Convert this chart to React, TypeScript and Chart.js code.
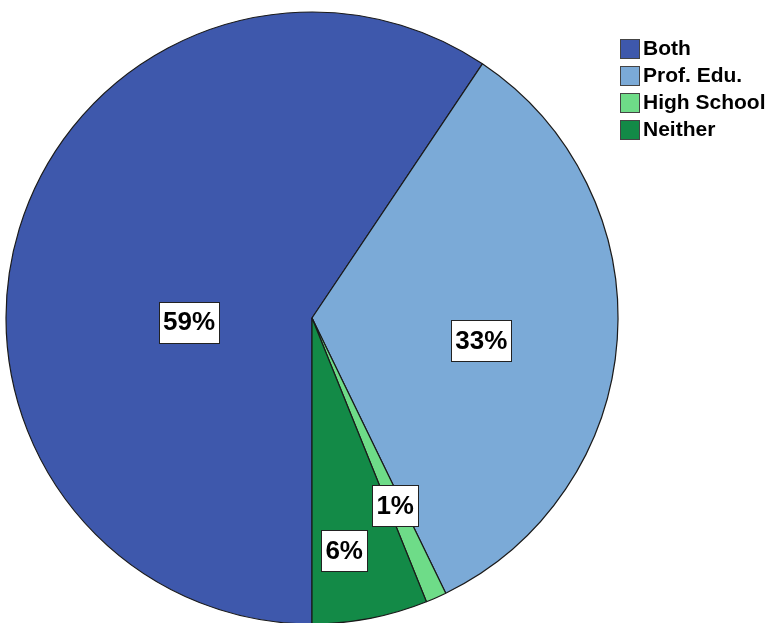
import React, { useEffect, useRef } from "react";
import { Chart, registerables } from "chart.js";

Chart.register(...registerables);

const categories = ["Both", "Prof. Edu.", "High School", "Neither"];
const shares = [59.4, 33.4, 1.1, 6.1];
const sliceColors = ["#3E58AC", "#7BAAD7", "#6EDC88", "#138A47"];

// label placement relative to each slice (radius fraction, angle shift in degrees)
const labelRadiusFraction = [0.402, 0.558, 0.67, 0.767];
const labelAngleShift = [-18.8, 3.7, 0, 3.1];

const FONT = "'Liberation Sans', Arial, sans-serif";

const pieLabelsPlugin = {
  id: "pieLabels",
  afterDatasetsDraw(chart: any) {
    const ctx = chart.ctx;
    const meta = chart.getDatasetMeta(0);
    const data = chart.data.datasets[0].data as number[];
    ctx.save();
    ctx.font = `bold 26px ${FONT}`;
    ctx.textAlign = "center";
    ctx.textBaseline = "middle";
    meta.data.forEach((arc: any, i: number) => {
      const p = arc.getProps(["x", "y", "startAngle", "endAngle", "outerRadius"], true);
      const mid = (p.startAngle + p.endAngle) / 2 + (labelAngleShift[i] * Math.PI) / 180;
      const r = p.outerRadius * labelRadiusFraction[i];
      const cx = p.x + Math.cos(mid) * r;
      const cy = p.y + Math.sin(mid) * r;
      const text = Math.round(data[i]) + "%";
      const w = ctx.measureText(text).width + 8;
      const h = 41;
      ctx.fillStyle = "#ffffff";
      ctx.fillRect(Math.round(cx - w / 2) + 0.5, Math.round(cy - h / 2) + 0.5, Math.round(w), h);
      ctx.strokeStyle = "#222222";
      ctx.lineWidth = 1;
      ctx.strokeRect(Math.round(cx - w / 2) + 0.5, Math.round(cy - h / 2) + 0.5, Math.round(w), h);
      ctx.fillStyle = "#000000";
      ctx.fillText(text, cx, cy + 1);
    });
    ctx.restore();
  },
};

const legendPlugin = {
  id: "boxLegend",
  afterDraw(chart: any) {
    const ctx = chart.ctx;
    const labels = chart.data.labels as string[];
    const colors = chart.data.datasets[0].backgroundColor as string[];
    const left = chart.chartArea.right + 2;
    const top = 39;
    const step = 27;
    const box = 19;
    ctx.save();
    ctx.font = `bold 21px ${FONT}`;
    ctx.textAlign = "left";
    ctx.textBaseline = "middle";
    labels.forEach((lab, i) => {
      const y = top + i * step;
      ctx.fillStyle = colors[i];
      ctx.fillRect(left + 0.5, y + 0.5, box, box);
      ctx.strokeStyle = "#444444";
      ctx.lineWidth = 1;
      ctx.strokeRect(left + 0.5, y + 0.5, box, box);
      ctx.fillStyle = "#000000";
      ctx.fillText(lab, left + box + 4, y + box / 2 + 1);
    });
    ctx.restore();
  },
};

export default function App() {
  const ref = useRef<HTMLCanvasElement>(null);
  useEffect(() => {
    document.body.style.margin = "0";
    const chart = new Chart(ref.current as HTMLCanvasElement, {
      type: "pie",
      data: {
        labels: categories,
        datasets: [
          {
            data: shares,
            backgroundColor: sliceColors,
            borderColor: "#1a1a1a",
            borderWidth: 1.2,
            clip: false,
          } as any,
        ],
      },
      options: {
        responsive: false,
        animation: false,
        rotation: 180,
        radius: 306,
        layout: { padding: { left: 6, right: 150, top: 13, bottom: 0 } },
        plugins: {
          legend: { display: false },
          tooltip: { enabled: false },
        },
      } as any,
      plugins: [pieLabelsPlugin, legendPlugin],
    });
    return () => chart.destroy();
  }, []);
  return (
    <div style={{ position: "fixed", left: 0, top: 0, width: 768, height: 623, background: "#fff" }}>
      <canvas ref={ref} width={768} height={623} />
    </div>
  );
}
